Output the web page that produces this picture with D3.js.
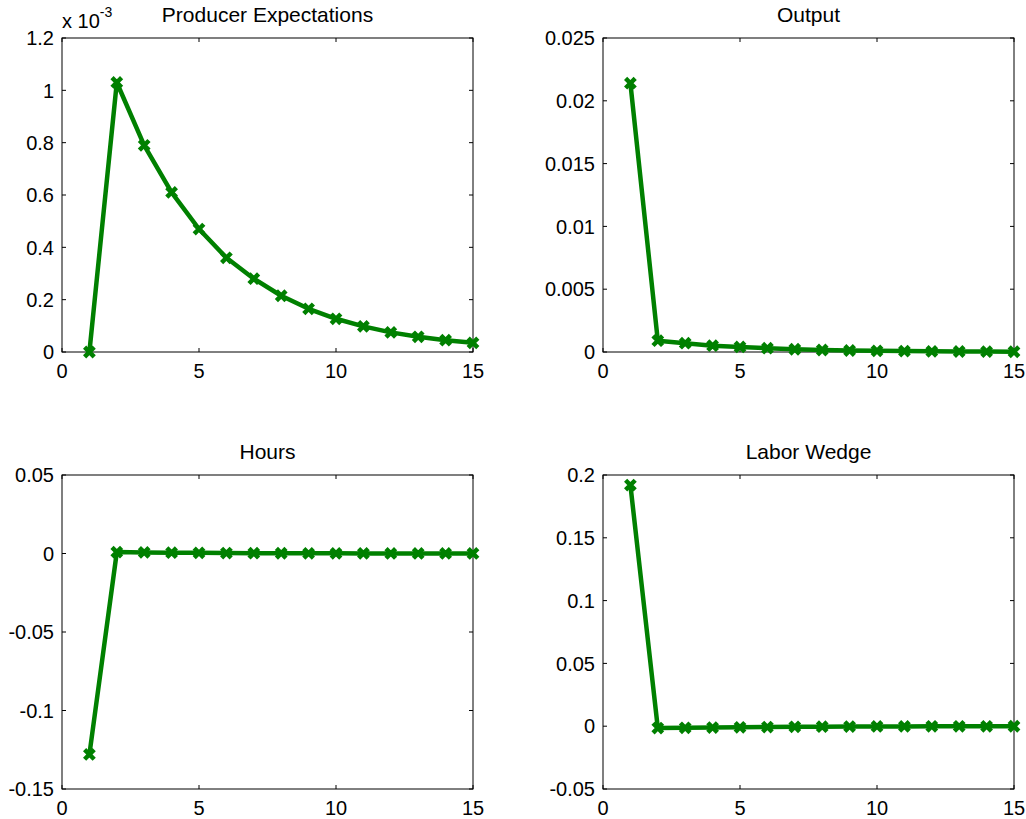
<!DOCTYPE html>
<html><head><meta charset="utf-8">
<script src="https://cdn.jsdelivr.net/npm/d3@7"></script>
<style>body{margin:0;background:#fff;} text{font-family:"Liberation Sans",Arial,sans-serif;}</style>
</head><body>
<svg id="c" width="1026" height="819"></svg>
<script>
const periods = [1,2,3,4,5,6,7,8,9,10,11,12,13,14,15];
const producerExpectations = [0, 1.03e-3, 0.79e-3, 0.61e-3, 0.47e-3, 0.36e-3, 0.28e-3, 0.215e-3, 0.165e-3, 0.127e-3, 0.098e-3, 0.075e-3, 0.058e-3, 0.045e-3, 0.035e-3];
const output = [0.0214, 0.0009, 0.0007, 0.0005, 0.0004, 0.0003, 0.00022, 0.00016, 0.00012, 0.00009, 0.00007, 0.00005, 0.00004, 0.00003, 0.00002];
const hours = [-0.128, 0.0009, 0.0007, 0.0005, 0.0004, 0.0003, 0.0002, 0.00015, 0.0001, 0.00008, 0.00006, 0.00005, 0.00004, 0.00003, 0.00002];
const laborWedge = [0.192, -0.0015, -0.0013, -0.0011, -0.0009, -0.0007, -0.0005, -0.0004, -0.0003, -0.0002, -0.00015, -0.0001, -0.00008, -0.00006, -0.00004];
const xTicks = [0,5,10,15];
const peTicks = [0,0.2,0.4,0.6,0.8,1,1.2];
const outTicks = [0,0.005,0.01,0.015,0.02,0.025];
const hoursTicks = [-0.15,-0.1,-0.05,0,0.05];
const lwTicks = [-0.05,0,0.05,0.1,0.15,0.2];

const panels = [
  {title:"Producer Expectations", data:producerExpectations.map(v=>v*1000), yd:[0,1.2], ticks:peTicks, fmt:d=>String(d), x0:62, y0:38, exp:true},
  {title:"Output", data:output, yd:[0,0.025], ticks:outTicks, fmt:d=>String(+d.toFixed(3)), x0:603, y0:38},
  {title:"Hours", data:hours, yd:[-0.15,0.05], ticks:hoursTicks, fmt:d=>String(+d.toFixed(2)), x0:62, y0:475},
  {title:"Labor Wedge", data:laborWedge, yd:[-0.05,0.2], ticks:lwTicks, fmt:d=>String(+d.toFixed(2)), x0:603, y0:475},
];
const W=411, H=314, tl=4, fs=20;
const svg = d3.select("#c");
const green = "#008000";
panels.forEach(p=>{
  const g = svg.append("g").attr("transform",`translate(${p.x0},${p.y0})`);
  const x = d3.scaleLinear().domain([0,15]).range([0,W]);
  const y = d3.scaleLinear().domain(p.yd).range([H,0]);
  g.append("rect").attr("width",W).attr("height",H).attr("fill","#fff").attr("stroke","#000").attr("stroke-width",1);
  const ax = g.append("g").attr("stroke","#000").attr("stroke-width",1);
  xTicks.forEach(t=>{
    ax.append("line").attr("x1",x(t)).attr("x2",x(t)).attr("y1",H).attr("y2",H-tl);
    ax.append("line").attr("x1",x(t)).attr("x2",x(t)).attr("y1",0).attr("y2",tl);
  });
  p.ticks.forEach(t=>{
    ax.append("line").attr("x1",0).attr("x2",tl).attr("y1",y(t)).attr("y2",y(t));
    ax.append("line").attr("x1",W).attr("x2",W-tl).attr("y1",y(t)).attr("y2",y(t));
  });
  g.selectAll(".xt").data(xTicks).enter().append("text")
    .attr("x",d=>x(d)).attr("y",H+26).attr("text-anchor","middle").attr("font-size",fs).text(d=>d);
  g.selectAll(".yt").data(p.ticks).enter().append("text")
    .attr("x",-8).attr("y",d=>y(d)).attr("dy","0.36em").attr("text-anchor","end").attr("font-size",fs).text(p.fmt);
  g.append("text").attr("x",W/2).attr("y",-16).attr("text-anchor","middle").attr("font-size",21).text(p.title);
  if(p.exp){
    const t = g.append("text").attr("x",0).attr("y",-10).attr("font-size",fs);
    t.append("tspan").text("x 10");
    t.append("tspan").attr("dy",-11).attr("font-size",14).text("-3");
  }
  const line = d3.line().x((d,i)=>x(periods[i])).y(d=>y(d));
  g.append("path").datum(p.data).attr("d",line).attr("fill","none").attr("stroke",green).attr("stroke-width",4.5).attr("stroke-linejoin","round");
  const s=4.8;
  g.selectAll(".m").data(p.data).enter().append("path")
    .attr("transform",(d,i)=>`translate(${x(periods[i])},${y(d)})`)
    .attr("d",`M${-s},${-s}L${s},${s}M${-s},${s}L${s},${-s}`)
    .attr("stroke",green).attr("stroke-width",4.5).attr("fill","none");
});
</script>
</body></html>
